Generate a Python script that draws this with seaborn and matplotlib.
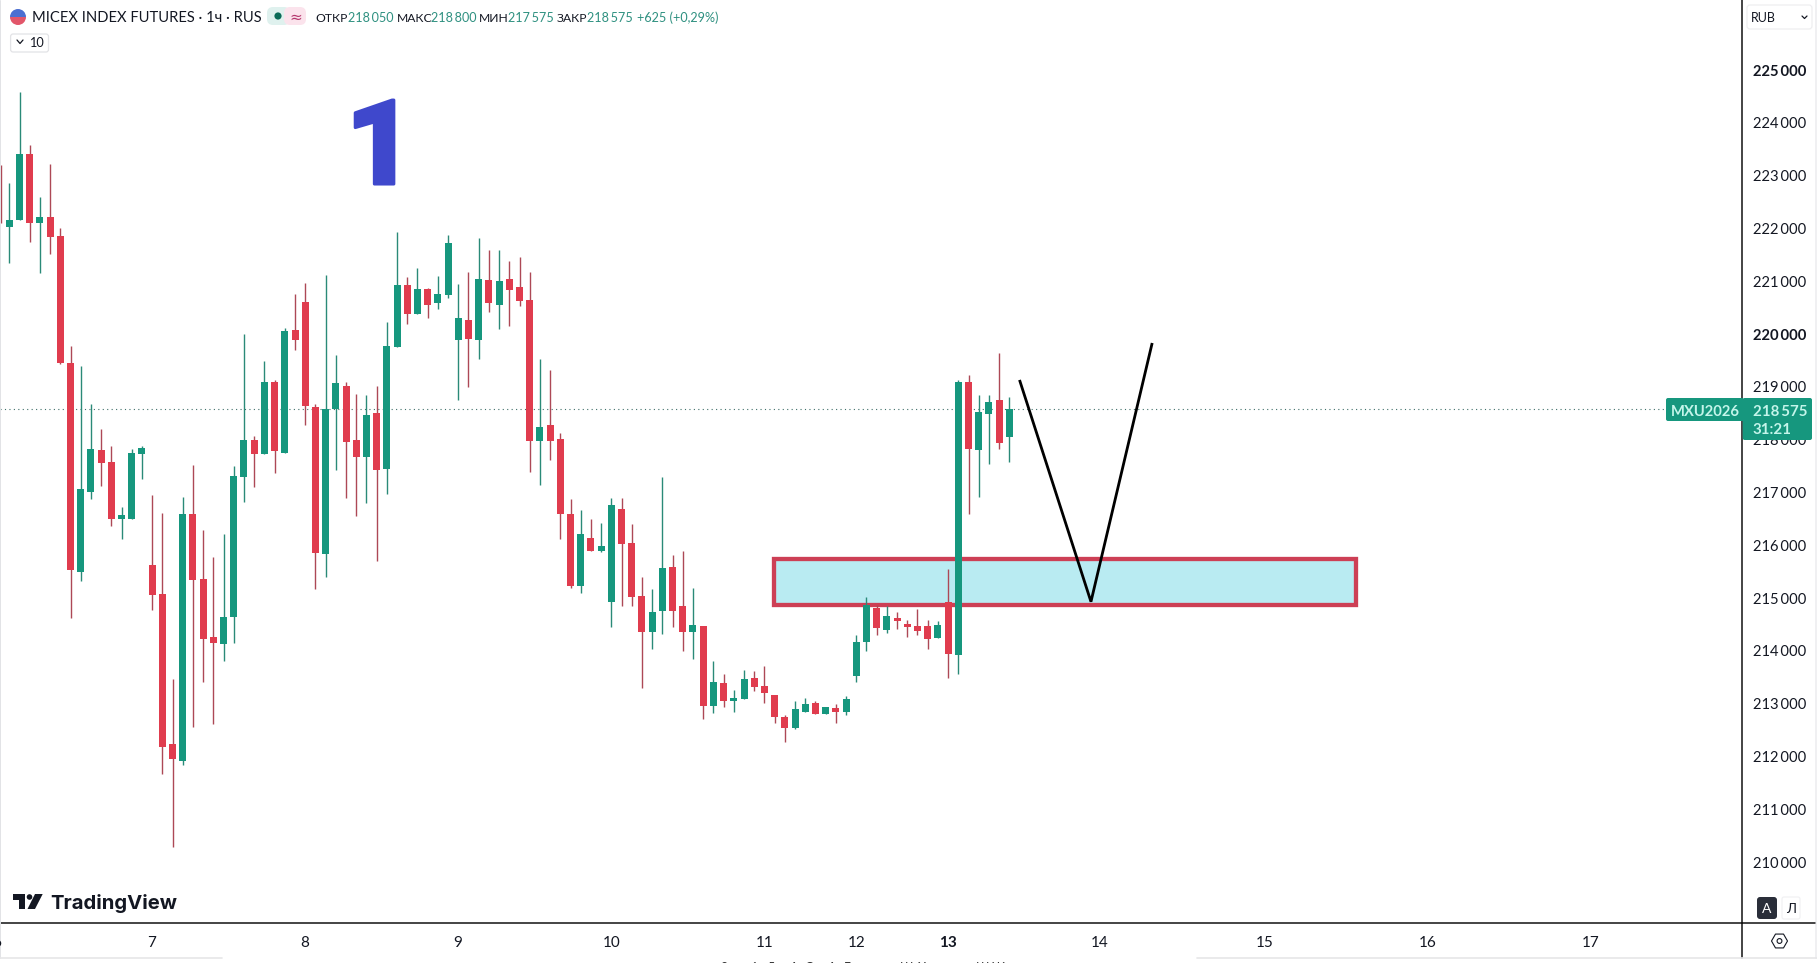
import numpy as np
import pandas as pd
import seaborn as sns
import matplotlib
matplotlib.use("Agg")
import matplotlib.pyplot as plt
import matplotlib.patheffects as pe
from matplotlib.patches import FancyBboxPatch, Polygon, Rectangle, Wedge, Circle, RegularPolygon
from matplotlib.lines import Line2D
from matplotlib.transforms import IdentityTransform

# Hourly MXU2026 candles
opens = [222650,222035,222160,223410,222110,222215,221855,219445,215500,217015,
         217805,217575,216505,216505,217730,215625,215075,212235,211920,216590,
         215360,214260,214135,214645,217300,217995,217735,219090,217755,220075,
         220605,218620,215840,218580,219015,217990,217675,218505,217450,219760,
         220930,220385,220850,220595,220745,219895,220265,219895,221025,220555,
         221040,220890,220645,217980,218275,218010,216595,215235,216135,215895,
         214930,216685,216040,215040,214360,214760,215585,214850,214360,214475,
         212960,213390,213055,213095,213485,213335,213160,212740,212545,212845,
         213010,212810,212915,212845,213530,214175,214810,214400,214620,214505,
         214470,214470,214250,214925,213925,219090,217810,218490,218750,218050]
closes = [222650,222160,223410,222110,222215,221845,219445,215530,217065,217820,
          217565,216505,216575,217745,217840,215065,212185,211950,216590,215340,
          214230,214155,214640,217310,217995,217735,219090,217790,220055,219895,
          218645,215860,218580,219070,217960,217675,218465,217430,219775,220930,
          220385,220850,220550,220755,221725,220305,219910,221040,220595,221005,
          220840,220630,217980,218240,217980,216595,215225,216210,215895,215985,
          216760,216030,215025,214360,214735,215570,214760,214360,214490,212960,
          213410,213055,213105,213465,213320,213205,212750,212545,212900,212990,
          212810,212935,212845,213085,214165,214865,214440,214660,214570,214455,
          214375,214230,214490,213945,219090,217830,218520,218710,217940,218575]
highs = [223200,222855,224585,223580,222590,223220,222000,219775,219395,218675,
         218200,217880,216720,217825,217880,216950,216605,213465,216905,217520,
         216290,215785,216210,217500,220000,218070,219490,219130,220110,220750,
         220960,218675,221110,219605,219085,218865,218845,219015,220225,221930,
         221080,221250,220870,221100,221875,220945,221175,221820,221590,221590,
         221380,221460,221175,219525,219320,218120,216870,216665,216495,216420,
         216895,216895,216400,215400,215170,217290,215815,215890,215190,214475,
         213805,213560,213255,213635,213615,213710,213160,212785,213050,213105,
         213050,212935,212990,213145,214300,215020,214865,214850,214735,214585,
         214790,214585,214565,215550,219130,219225,218845,218845,219635,218800]
lows = [222095,221340,222160,221750,221160,221520,219425,214625,215330,216880,
        217120,216370,216125,216505,217260,214780,211675,210280,211845,212565,
        213415,212620,213815,214155,216825,217110,217735,217375,217755,219695,
        218285,215175,215405,217430,216900,216560,216805,215705,216970,219760,
        220195,220385,220310,220475,220690,218755,219000,219535,220425,220100,
        220150,220535,217390,217140,217620,216125,215195,215100,215895,215875,
        214455,214855,214855,213300,214040,214325,214455,214000,213850,212700,
        212830,212940,212845,213095,213245,213005,212625,212280,212525,212845,
        212810,212810,212625,212790,213415,214000,214305,214345,214420,214265,
        214305,214040,214250,213490,213565,216595,216920,217545,217830,217575]

last_price = 218575
price_ticks = [225000,224000,223000,222000,221000,220000,219000,218000,
               217000,216000,215000,214000,213000,212000,211000,210000]
bold_prices = [225000,220000]
day_labels = ["7","8","9","10","11","12","13","14","15","16","17"]
day_bars = [14.9,29.9,44.9,60,75,84,93,107.9,124,140,156]

zone_bars = [75.95, 133.0]
zone_prices = [214875, 215738]
sketch_bars = [100.0, 107.0, 113.0]
sketch_prices = [219130, 214930, 219830]

GREEN = "#16977e"
RED = "#e03c4e"
GREEN_WICK = "#2a8a78"
RED_WICK = "#ad4856"
INK = "#131722"
W, H = 1817, 963

sns.set_theme(style="white")
plt.rcParams["font.family"] = ["Lato", "Open Sans", "DejaVu Sans"]

fig = plt.figure(figsize=(W / 100, H / 100), dpi=100, facecolor="white")
ax = fig.add_axes([0, 40 / H, 1742 / W, 923 / H], facecolor="white")

candles = pd.DataFrame({"open": opens, "close": closes, "high": highs, "low": lows})
candles["bar"] = np.arange(len(candles), dtype=float)
candles.loc[0, "bar"] = 0.22  # only the wick of the first candle is on screen
candles["top"] = candles[["open", "close"]].max(axis=1)
candles["bottom"] = candles[["open", "close"]].min(axis=1)
candles["height"] = candles["top"] - candles["bottom"]
bulls = candles[(candles.close >= candles.open) & (candles.index > 0)]
bears = candles[candles.close < candles.open]

# Demand zone sits under the candles
ax.add_patch(Rectangle((zone_bars[0], zone_prices[0]), zone_bars[1] - zone_bars[0],
                       zone_prices[1] - zone_prices[0], facecolor="#b9ebf2",
                       edgecolor="#cd3f55", linewidth=3.1, joinstyle="miter", zorder=1.5))
ax.axhline(last_price, color="#3f6f69", lw=0.8, ls=(0, (1, 3)), zorder=1)

ax.vlines(bulls.bar, bulls.low, bulls.high, color=GREEN_WICK, lw=1.0, zorder=2)
ax.vlines(bears.bar, bears.low, bears.high, color=RED_WICK, lw=1.0, zorder=2)
ax.vlines(candles.bar[:1], candles.low[:1], candles.high[:1], color=RED_WICK, lw=1.0, zorder=2)

for frame, colour in ((bulls, GREEN), (bears, RED)):
    sns.barplot(data=frame, x="bar", y="height", bottom=frame["bottom"].to_numpy(),
                native_scale=True, color=colour, saturation=1, errorbar=None,
                width=0.686, linewidth=0, ax=ax, zorder=3)

ax.plot(sketch_bars, sketch_prices, color="black", lw=2.0, solid_joinstyle="miter",
        solid_capstyle="butt", zorder=4)

ax.set_xlim(0.089, 170.8)
ax.set_ylim(208845, 226326)
ax.set_xlabel("")
ax.set_ylabel("")

ax.yaxis.tick_right()
ax.set_yticks(price_ticks)
ax.set_yticklabels([f"{p // 1000}\u2009{p % 1000:03d}" for p in price_ticks], fontsize=10.6, color=INK)
for tick_label, price in zip(ax.get_yticklabels(), price_ticks):
    if price in bold_prices:
        tick_label.set_fontweight("bold")
ax.tick_params(axis="y", length=0, pad=8)
ax.set_xticks(day_bars)
ax.set_xticklabels(day_labels, fontsize=11, color=INK)
ax.get_xticklabels()[6].set_fontweight("bold")
ax.tick_params(axis="x", length=0, pad=9)
ax.grid(False)
for side in ("top", "left"):
    ax.spines[side].set_visible(False)
for side in ("right", "bottom"):
    ax.spines[side].set_color("#111111")
    ax.spines[side].set_linewidth(1.1)


def fx(x):
    return x / W


def fy(y):
    return 1 - y / H


def label(x, y, s, **kw):
    kw.setdefault("color", INK)
    kw.setdefault("va", "center_baseline")
    kw.setdefault("fontsize", 10)
    return fig.text(fx(x), fy(y), s, **kw)


def box(x0, y0, x1, y1, r=2, **kw):
    kw.setdefault("linewidth", 0)
    patch = FancyBboxPatch((x0, H - y1), x1 - x0, y1 - y0,
                           boxstyle=f"round,pad=0,rounding_size={r}",
                           transform=IdentityTransform(), **kw)
    fig.add_artist(patch)
    return patch


def rule(xs, ys, **kw):
    fig.add_artist(Line2D([fx(v) for v in xs], [fy(v) for v in ys],
                          transform=fig.transFigure, **kw))


# Frame details around the panes
rule([0.3, 0.3], [0, 958], color="#e2e3e6", lw=0.7)
rule([1815.5, 1815.5], [0, 958], color="#eeeeF0", lw=1.2)
rule([1742, 1815], [923.3, 923.3], color="#111111", lw=1.1)
rule([1742.4, 1742.4], [923, 958], color="#111111", lw=1.1)
rule([0, 222], [958, 958], color="#e6e6e8", lw=1.2)
rule([1197, 1817], [958, 958], color="#e6e6e8", lw=1.2)
label(-3, 941.5, "6", ha="center", fontsize=11)

# Legend row
identity = IdentityTransform()
fig.add_artist(Wedge((18, H - 17), 8, 0, 180, facecolor="#4c6fd1", transform=identity, lw=0))
fig.add_artist(Wedge((18, H - 17), 8, 180, 360, facecolor="#e2566a", transform=identity, lw=0))
label(31.5, 17, "MICEX INDEX FUTURES · 1ч · RUS", fontsize=10.6)
box(267, 7, 290, 25, r=6, facecolor="#dff1ee")
box(284, 7, 306, 25, r=6, facecolor="#fbe3ec")
fig.add_artist(Circle((278, H - 16), 3.6, facecolor="#0b6b58", transform=identity, lw=0))
label(296, 16, "≈", ha="center", fontsize=11, color="#b5376e", family=["DejaVu Sans"])

head_colour = "#2e9080"
for x, s in [(315, "ОТКР"), (396.5, "МАКС"), (479, "МИН"), (556.5, "ЗАКР")]:
    label(x, 17, s, fontsize=8.7)
for x, s in [(348, "218\u2009050"), (431, "218\u2009800"), (507.5, "217\u2009575"),
             (587, "218\u2009575"), (636.5, "+625 (+0,29%)")]:
    label(x, 17, s, color=head_colour, fontsize=9.1)

box(10.6, 34, 48.5, 52, r=2.5, facecolor="white", edgecolor="#e2e3e6", linewidth=0.9)
rule([17, 20, 23], [40, 43.5, 40], color=INK, lw=0.9)
label(29, 42, "10", fontsize=9.2)

# Currency selector and scale mode buttons
box(1747, 5, 1812, 29, r=3, facecolor="white", edgecolor="#eeeeF0", linewidth=0.9)
label(1750.5, 17, "RUB", fontsize=9)
rule([1802, 1804.5, 1807], [16, 18.5, 16], color=INK, lw=0.9)
box(1757, 897, 1777, 919, r=3, facecolor="#2a2e39")
label(1767, 908, "A", color="white", ha="center", fontsize=10)
box(1782, 897, 1800, 919, r=2, facecolor="white", edgecolor="#f0f0f2", linewidth=0.8)
label(1791, 908, "Л", ha="center", fontsize=10)
fig.add_artist(RegularPolygon((1779.5, H - 941), 6, radius=8, orientation=np.pi / 2,
                              facecolor="white", edgecolor=INK, lw=0.8, transform=identity))
fig.add_artist(Circle((1779.5, H - 941), 2.4, facecolor="white", edgecolor=INK, lw=0.8, transform=identity))

# Price tags on the scale
box(1666, 398, 1744, 421, r=2, facecolor=GREEN)
box(1742.7, 398, 1812, 440, r=2, facecolor=GREEN)
tag_colour = "#c4f5ea"
label(1671, 410, "MXU2026", color=tag_colour, fontsize=10.6, fontweight="bold")
label(1752.5, 410, "218\u2009575", color=tag_colour, fontsize=10.8, fontweight="bold")
label(1752.5, 429, "31:21", color=tag_colour, fontsize=10.8, fontweight="bold")

# Large annotation numeral, thickened with a matching outline
numeral = label(414, 184, "1", color="#3f48cc", fontsize=85, fontweight=900, ha="right", va="baseline",
                family=["Roboto", "Liberation Sans"])
numeral.set_path_effects([pe.withStroke(linewidth=2.2, foreground="#3f48cc")])

# Brand mark
for pts in ([(13, 894), (25, 894), (25, 909), (19, 909), (19, 900), (13, 900)],
            [(35, 894), (42.7, 894), (35, 909), (27.5, 909)]):
    fig.add_artist(Polygon([(x, H - y) for x, y in pts], closed=True, facecolor=INK, lw=0, transform=identity))
fig.add_artist(Circle((29.5, H - 897), 2.8, facecolor=INK, lw=0, transform=identity))
label(50.5, 901, "TradingView", fontsize=14.6, fontweight="bold", family=["Inter", "Roboto"])

# Tops of the next row of captions, cut off by the lower edge
for x, s in [(688, "о"), (724, "8"), (755, "1"), (771, "5"), (794, "А"), (809, "С"),
             (832, "А"), (847, "Г"), (907, "Ш"), (922, "Х"), (983, "Ш"), (998, "Ж"), (1025, "о")]:
    label(x, 968, s, ha="center", fontsize=9, color="#333333", va="center")

fig.savefig("out.png", dpi=100, facecolor="white")
